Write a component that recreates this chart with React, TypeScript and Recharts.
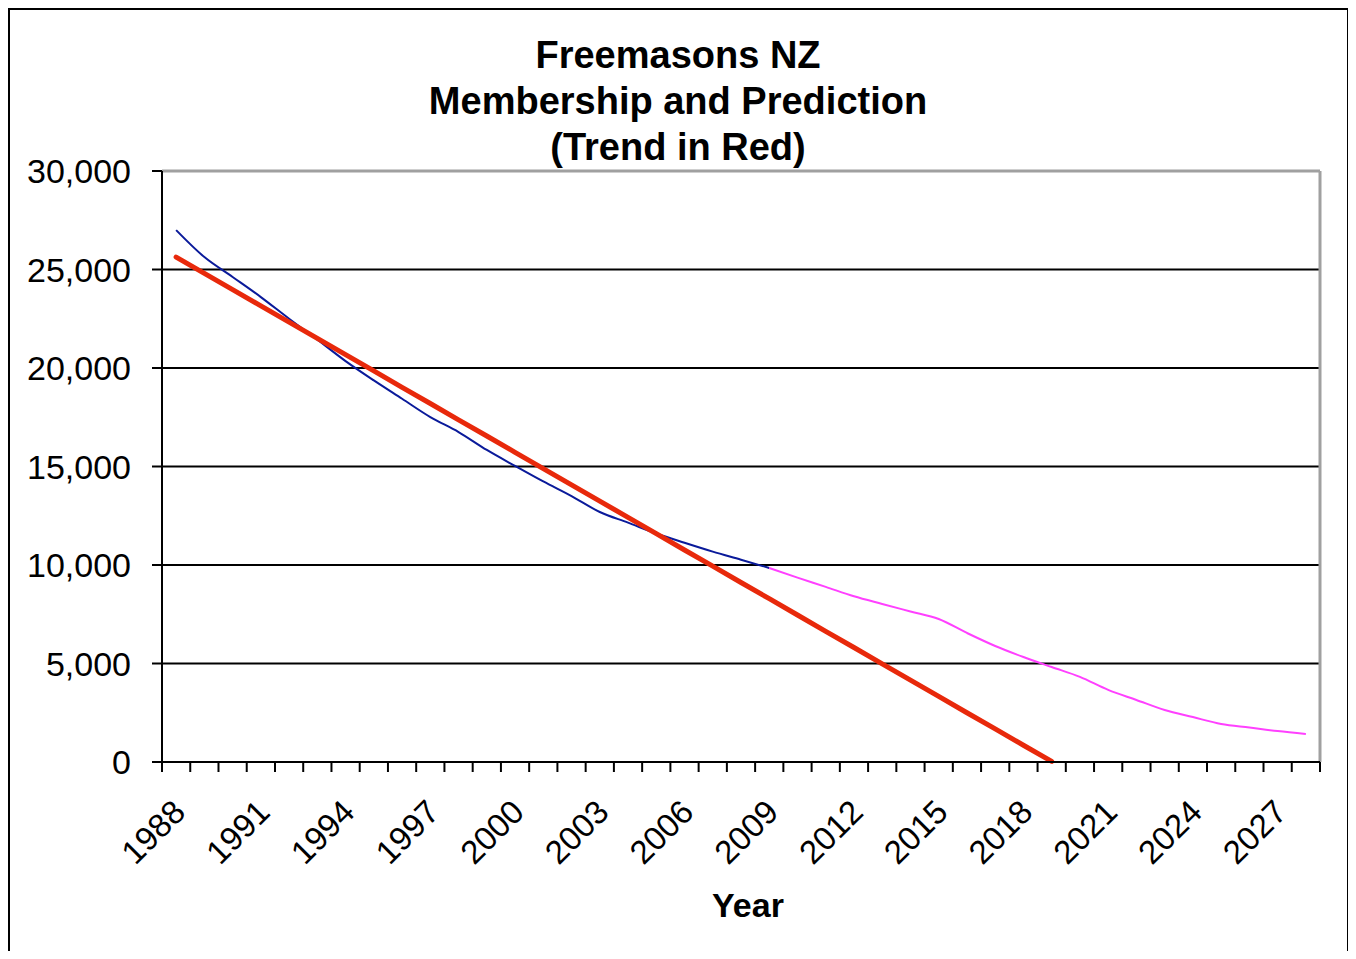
import React from "react";
import {
  CartesianGrid, Line, LineChart, ReferenceLine, XAxis, YAxis,
} from "recharts";

const FONT = '"Liberation Sans", Arial, Helvetica, sans-serif';

// years on the category axis
const years = [
  1988, 1989, 1990, 1991, 1992, 1993, 1994, 1995, 1996, 1997,
  1998, 1999, 2000, 2001, 2002, 2003, 2004, 2005, 2006, 2007,
  2008, 2009, 2010, 2011, 2012, 2013, 2014, 2015, 2016, 2017,
  2018, 2019, 2020, 2021, 2022, 2023, 2024, 2025, 2026, 2027, 2028,
];
const labelYears = [1988, 1991, 1994, 1997, 2000, 2003, 2006, 2009, 2012, 2015, 2018, 2021, 2024, 2027];
const yTicks = [0, 5000, 10000, 15000, 20000, 25000, 30000];

// actual membership 1988-2009
const membership = [
  27000, 25630, 24620, 23600, 22500, 21440, 20350, 19370, 18440, 17510, 16750,
  15840, 15030, 14240, 13500, 12690, 12150, 11600, 11130, 10680, 10270, 9850,
];
// prediction 2009-2028
const prediction = [
  9850, 9360, 8890, 8410, 8020, 7640, 7260, 6550, 5890, 5330,
  4820, 4320, 3660, 3150, 2640, 2280, 1930, 1750, 1570, 1420,
];
// trend (red) 1988-2019
const trend = [
  25630, 24800, 23980, 23150, 22330, 21500, 20680, 19850, 19020, 18200, 17370,
  16550, 15720, 14890, 14070, 13240, 12420, 11590, 10760, 9940, 9110, 8290,
  7460, 6630, 5810, 4980, 4160, 3330, 2500, 1680, 850, 30,
];

const predStart = 2009;

const rows = years.map((year, i) => ({
  year,
  membership: membership[i],
  prediction: year >= predStart ? prediction[year - predStart] : undefined,
  trend: trend[i],
}));

const boundaries = [...years.map((y) => y - 0.5), years[years.length - 1] + 0.5];
const xDomain = [boundaries[0], boundaries[boundaries.length - 1]];

function YearTick(props: any) {
  const { x, y, payload } = props;
  const tx = x + 11;
  const ty = y + 40;
  return (
    <text
      x={tx} y={ty}
      transform={`rotate(-45, ${tx}, ${ty})`}
      textAnchor="end"
      fontSize={33}
      fontFamily={FONT}
      fill="#000"
    >
      {payload.value}
    </text>
  );
}

export default function App() {
  return (
    <div
      style={{
        position: "relative", width: 1341, height: 943, boxSizing: "border-box",
        border: "2px solid #000", borderBottom: "none", background: "#fff", fontFamily: FONT,
      }}
    >
      <div
        style={{
          position: "absolute", left: 0, top: 22, width: 1336, textAlign: "center",
          fontSize: 38, fontWeight: "bold", lineHeight: "46px", color: "#000",
        }}
      >
        <div>Freemasons NZ</div>
        <div>Membership and Prediction</div>
        <div>(Trend in Red)</div>
      </div>

      <div style={{ position: "absolute", left: 0, top: 0 }}>
        <LineChart
          width={1336} height={940} data={rows}
          margin={{ top: 161, right: 26, left: 0, bottom: 76 }}
        >
          <CartesianGrid vertical={false} stroke="#000" strokeWidth={2} yAxisId="y" xAxisId="a" />
          <XAxis
            xAxisId="labels" dataKey="year" type="number" domain={xDomain} allowDataOverflow
            ticks={labelYears} interval={0} height={100} tickSize={0} tickMargin={0}
            axisLine={false} tickLine={false} tick={<YearTick />}
          />
          <XAxis
            xAxisId="a" dataKey="year" type="number" domain={xDomain} allowDataOverflow
            ticks={boundaries} interval={0} height={12} tickSize={10}
            tickFormatter={() => ""}
            axisLine={{ stroke: "#000", strokeWidth: 2 }}
            tickLine={{ stroke: "#000", strokeWidth: 2 }}
          />
          <YAxis
            yAxisId="y" domain={[0, 30000]} ticks={yTicks} interval={0} width={152}
            tickSize={10} tickMargin={21}
            tickFormatter={(v: number) => v.toLocaleString("en-US")}
            tick={{ fontSize: 34, fill: "#000", fontFamily: FONT }}
            axisLine={{ stroke: "#000", strokeWidth: 2 }}
            tickLine={{ stroke: "#000", strokeWidth: 2 }}
          />
          <ReferenceLine yAxisId="y" xAxisId="a" y={30000} stroke="#a0a0a0" strokeWidth={3} />
          <ReferenceLine yAxisId="y" xAxisId="a" x={xDomain[1]} stroke="#a0a0a0" strokeWidth={3} />
          <Line
            xAxisId="a" yAxisId="y" type="monotone" dataKey="membership"
            stroke="#0a1a9a" strokeWidth={2} dot={false} activeDot={false} isAnimationActive={false}
          />
          <Line
            xAxisId="a" yAxisId="y" type="monotone" dataKey="prediction"
            stroke="#ff40ff" strokeWidth={2} dot={false} activeDot={false} isAnimationActive={false}
          />
          <Line
            xAxisId="a" yAxisId="y" type="linear" dataKey="trend"
            stroke="#e8290b" strokeWidth={5} strokeLinecap="round" dot={false} activeDot={false}
            isAnimationActive={false}
          />
        </LineChart>
      </div>

      <div
        style={{
          position: "absolute", left: 638, top: 875, width: 200, textAlign: "center",
          fontSize: 34, fontWeight: "bold", lineHeight: "40px", color: "#000",
        }}
      >
        Year
      </div>
    </div>
  );
}
